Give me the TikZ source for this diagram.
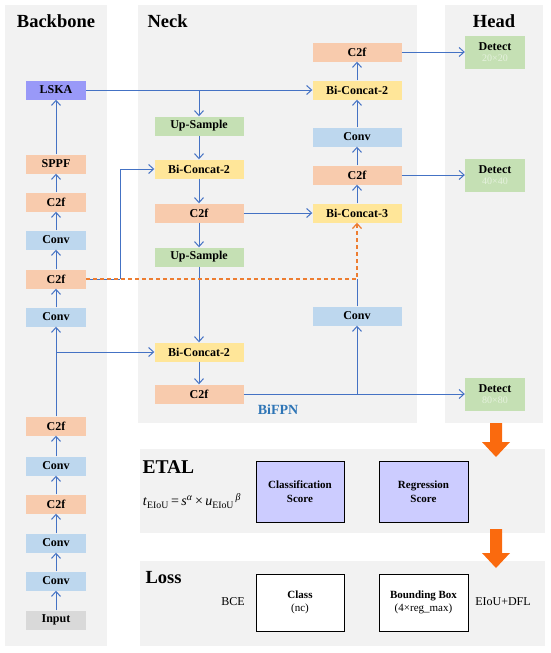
\documentclass[tikz,border=0pt]{standalone}
\usepackage{fontspec}
\setmainfont{Liberation Serif}
\usetikzlibrary{arrows.meta}
\definecolor{panelc}{HTML}{F2F2F2}
\definecolor{orngc}{HTML}{F8CBAD}
\definecolor{bluc}{HTML}{BDD7EE}
\definecolor{grnc}{HTML}{C5E0B4}
\definecolor{yelc}{HTML}{FFE699}
\definecolor{purpc}{HTML}{9999F8}
\definecolor{gryc}{HTML}{D9D9D9}
\definecolor{lineblue}{HTML}{4472C4}
\definecolor{dashor}{HTML}{ED7D31}
\definecolor{bigor}{HTML}{FA6A0E}
\definecolor{bifpnc}{HTML}{2E75B6}
\definecolor{lavc}{HTML}{CCCCFF}
\definecolor{detsub}{HTML}{E6F2DE}
\begin{document}
\begin{tikzpicture}[x=1pt,y=-1pt,
  blk/.style={minimum width=60pt, minimum height=19pt, inner sep=0pt, font=\bfseries\fontsize{12}{13}\selectfont},
  nk/.style={blk, minimum width=89pt},
  det/.style={fill=grnc, minimum width=60pt, minimum height=33pt, inner sep=0pt, align=center},
  ttl/.style={font=\bfseries\fontsize{18.5}{20}\selectfont},
  lbox/.style={draw=black, line width=0.8pt, align=center, font=\fontsize{11}{13}\selectfont},
  ln/.style={draw=lineblue, line width=1pt},
  arr/.style={ln, -{Straight Barb[length=5pt,width=9pt]}},
  darr/.style={draw=dashor, line width=1.2pt, dash pattern=on 4pt off 3pt, -{Straight Barb[length=5pt,width=9pt]}}
]
\useasboundingbox (0,0) rectangle (550,653);
% panels
\fill[panelc] (5,5) rectangle (107,646);
\fill[panelc] (138,5) rectangle (417,423);
\fill[panelc] (445,5) rectangle (543,423);
\fill[panelc] (140,449) rectangle (545,533);
\fill[panelc] (140,561) rectangle (545,646);
% titles
\node[ttl] (tbb) at (56,21) {Backbone};
\node[ttl, anchor=west] (tnk) at (144,21) {Neck};
\node[ttl] (thd) at (494,21) {Head};
\node[font=\bfseries\fontsize{19.5}{21}\selectfont, anchor=west] (tet) at (139,467) {ETAL};
\node[ttl, anchor=west] (tls) at (142,578) {Loss};
% backbone
\node[blk,fill=purpc] (lska) at (56,90) {LSKA};
\node[blk,fill=orngc] (sppf) at (56,164) {SPPF};
\node[blk,fill=orngc] (b1) at (56,202) {C2f};
\node[blk,fill=bluc] (b2) at (56,240) {Conv};
\node[blk,fill=orngc] (b3) at (56,279) {C2f};
\node[blk,fill=bluc] (b4) at (56,317) {Conv};
\node[blk,fill=orngc] (b5) at (56,426) {C2f};
\node[blk,fill=bluc] (b6) at (56,466) {Conv};
\node[blk,fill=orngc] (b7) at (56,504) {C2f};
\node[blk,fill=bluc] (b8) at (56,543) {Conv};
\node[blk,fill=bluc] (b9) at (56,581) {Conv};
\node[blk,fill=gryc] (inp) at (56,620) {Input};
% neck left
\node[nk,fill=grnc] (up1) at (199,126) {Up-Sample};
\node[nk,fill=yelc] (bc1) at (199,169) {Bi-Concat-2};
\node[nk,fill=orngc] (n1) at (199,213) {C2f};
\node[nk,fill=grnc] (up2) at (199,257) {Up-Sample};
\node[nk,fill=yelc] (bc2) at (199,352) {Bi-Concat-2};
\node[nk,fill=orngc] (n2) at (199,394) {C2f};
% neck right
\node[nk,fill=orngc] (r1) at (357,52) {C2f};
\node[nk,fill=yelc] (r2) at (357,90) {Bi-Concat-2};
\node[nk,fill=bluc] (r3) at (357,137) {Conv};
\node[nk,fill=orngc] (r4) at (357,175) {C2f};
\node[nk,fill=yelc] (r5) at (357,213) {Bi-Concat-3};
\node[nk,fill=bluc] (r6) at (357,316) {Conv};
\node[font=\bfseries\fontsize{14}{16}\selectfont, text=bifpnc] (bifpn) at (278,410) {BiFPN};
% head
\node[det] (d1) at (495,52) {{\bfseries\fontsize{12}{12}\selectfont Detect}\\[-1pt]{\fontsize{10}{10}\selectfont\color{detsub}20×20}};
\node[det] (d2) at (495,175) {{\bfseries\fontsize{12}{12}\selectfont Detect}\\[-1pt]{\fontsize{10}{10}\selectfont\color{detsub}40×40}};
\node[det] (d3) at (495,394) {{\bfseries\fontsize{12}{12}\selectfont Detect}\\[-1pt]{\fontsize{10}{10}\selectfont\color{detsub}80×80}};
% backbone arrows
\foreach \a/\b in {inp/b9,b9/b8,b8/b7,b7/b6,b6/b5,b5/b4,b4/b3,b3/b2,b2/b1,b1/sppf,sppf/lska}
  \draw[arr] (\a.north) -- (\b.south);
% neck connections
\coordinate (j1) at (56,352);
\draw[arr] (j1) -- (bc2.west);
\draw[arr] (lska.east) -- (r2.west);
\coordinate (j2) at (199,90);
\draw[arr] (j2) -- (up1.north);
\foreach \a/\b in {up1/bc1,bc1/n1,n1/up2,up2/bc2,bc2/n2}
  \draw[arr] (\a.south) -- (\b.north);
\coordinate (k1) at (120,279);
\coordinate (k2) at (120,169);
\draw[arr] (k1) -- (k2) -- (bc1.west);
\draw[ln] (b3.east) -- (k1);
\draw[arr] (n1.east) -- (r5.west);
\coordinate (k3) at (357,279);
\draw[ln] (r6.north) -- (k3);
\draw[darr] (b3.east) -- (k3) -- (r5.south);
\draw[arr] (n2.east) -- (d3.west);
\coordinate (k4) at (357,394);
\draw[arr] (k4) -- (r6.south);
\foreach \a/\b in {r5/r4,r4/r3,r3/r2,r2/r1}
  \draw[arr] (\a.north) -- (\b.south);
\draw[arr] (r1.east) -- (d1.west);
\draw[arr] (r4.east) -- (d2.west);
% big orange arrows
\fill[bigor] (490,423) -- (502,423) -- (502,442) -- (510,442) -- (496,457) -- (482,442) -- (490,442) -- cycle;
\fill[bigor] (490,529) -- (502,529) -- (502,553) -- (510,553) -- (496,568) -- (482,553) -- (490,553) -- cycle;
% ETAL
\node[font=\fontsize{14}{16}\selectfont] (form) at (192,501) {\textit{t}\textsubscript{EIoU}\,=\,\textit{s}\textsuperscript{\textit{α}}\,×\,\textit{u}\textsubscript{EIoU}\textsuperscript{\,\textit{β}}};
\node[lbox, fill=lavc, minimum width=88pt, minimum height=61pt, font=\bfseries\fontsize{11}{14}\selectfont] (cls) at (300,491.5) {Classification\\Score};
\node[lbox, fill=lavc, minimum width=89pt, minimum height=61pt, font=\bfseries\fontsize{11}{14}\selectfont] (reg) at (423.5,491.5) {Regression\\Score};
% Loss
\node[font=\fontsize{12}{14}\selectfont] (bce) at (233,602) {BCE};
\node[lbox, fill=white, minimum width=88pt, minimum height=57pt] (cl) at (300,602.5) {\textbf{Class}\\(nc)};
\node[lbox, fill=white, minimum width=89pt, minimum height=57pt] (bb) at (423.5,602.5) {\textbf{Bounding Box}\\(4×reg\_max)};
\node[font=\fontsize{12}{14}\selectfont] (eiou) at (503,602) {EIoU+DFL};
\end{tikzpicture}
\end{document}
